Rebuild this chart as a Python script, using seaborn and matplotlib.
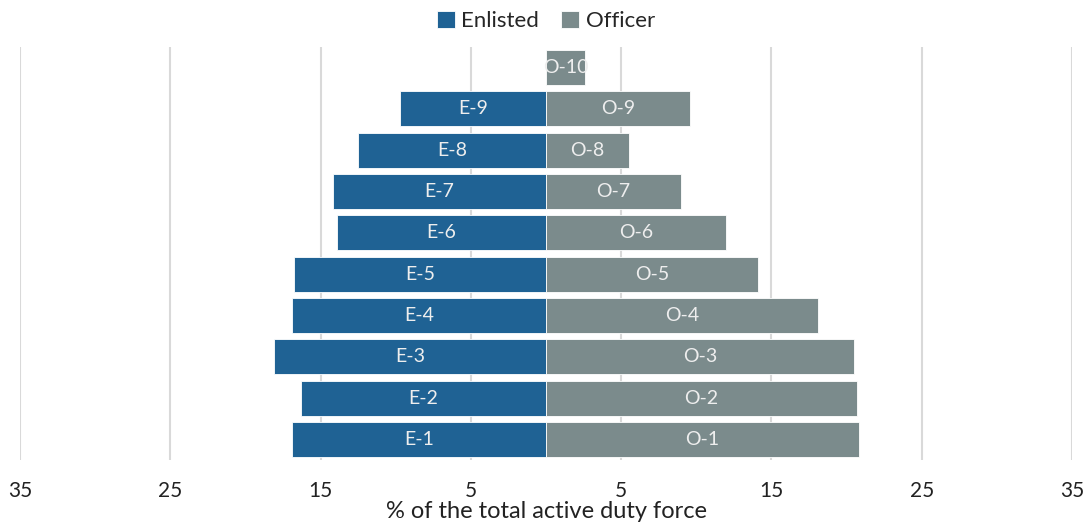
import numpy as np
import pandas as pd
import matplotlib
matplotlib.use("Agg")
import matplotlib.pyplot as plt
import seaborn as sns

# pay grades, top to bottom
grades = ["10", "9", "8", "7", "6", "5", "4", "3", "2", "1"]
enlisted_grades = ["9", "8", "7", "6", "5", "4", "3", "2", "1"]
enlisted_pct = [9.7, 12.5, 14.2, 13.9, 16.8, 16.9, 18.1, 16.3, 16.9]
officer_grades = ["10", "9", "8", "7", "6", "5", "4", "3", "2", "1"]
officer_pct = [2.6, 9.6, 5.5, 9.0, 12.0, 14.1, 18.1, 20.5, 20.7, 20.8]
tick_vals = [-35, -25, -15, -5, 5, 15, 25, 35]

colors = {"Enlisted": "#1f6294", "Officer": "#7b8b8c"}
prefix = {"Enlisted": "E-", "Officer": "O-"}

df = pd.concat([
    pd.DataFrame({"grade": enlisted_grades, "pct": -np.array(enlisted_pct), "group": "Enlisted"}),
    pd.DataFrame({"grade": officer_grades, "pct": np.array(officer_pct), "group": "Officer"}),
], ignore_index=True)

sns.set_style("white")
plt.rcParams["font.family"] = ["Lato", "DejaVu Sans"]

fig = plt.figure(figsize=(10.89, 5.27), dpi=100)
ax = fig.add_axes([0.0184, 0.127, 0.966, 0.784])

sns.barplot(data=df, x="pct", y="grade", hue="group", order=grades,
            hue_order=["Enlisted", "Officer"], palette=colors, dodge=False,
            orient="h", width=0.85, saturation=1, edgecolor="white",
            linewidth=0.6, ax=ax)

# labels inside each bar
for cont, grp in zip(ax.containers, ["Enlisted", "Officer"]):
    labels = []
    for p in cont:
        idx = int(round(p.get_y() + p.get_height() / 2))
        labels.append(prefix[grp] + grades[idx])
    ax.bar_label(cont, labels=labels, label_type="center", color="#eeeeee", fontsize=14)

ax.set_xlim(-35, 35)
ax.set_xticks(tick_vals)
ax.set_xticklabels([str(abs(v)) for v in tick_vals], fontsize=15, color="#222222")
ax.set_yticks([])
ax.set_ylabel("")
ax.set_xlabel("% of the total active duty force", fontsize=17, color="#222222", labelpad=0)
ax.tick_params(axis="x", length=0, pad=15)
ax.grid(axis="x", color="#d9d9d9", linewidth=1.5)
ax.set_axisbelow(True)
sns.despine(ax=ax, left=True, bottom=True)

sns.move_legend(ax, "lower center", bbox_to_anchor=(0.5, 1.0), ncol=2, frameon=False,
                title=None, fontsize=16, handlelength=0.8, handleheight=0.8,
                handletextpad=0.3, columnspacing=1.0, borderaxespad=0.3)

fig.savefig("out.png", dpi=100)
